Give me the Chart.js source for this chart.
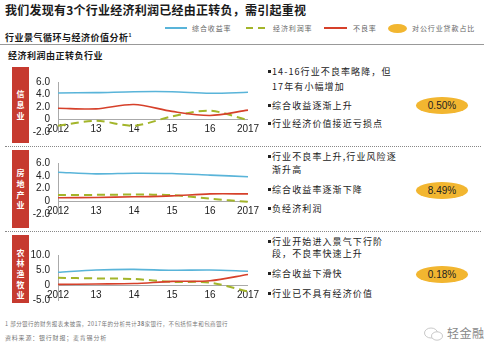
<!DOCTYPE html>
<html>
<head>
<meta charset="utf-8">
<script src="https://cdn.jsdelivr.net/npm/chart.js@4"></script>
<style>
  html,body{margin:0;padding:0;background:#fff;}
  body{width:500px;height:356px;position:relative;overflow:hidden;font-family:"Noto Sans CJK SC","Noto Sans",sans-serif;}
  .abs{position:absolute;white-space:nowrap;}
  .title{left:5px;top:2px;font-size:12px;font-weight:bold;color:#1a1a1a;letter-spacing:0.25px;line-height:16px;}
  .sub{font-size:9px;font-weight:bold;color:#1a1a1a;letter-spacing:0.5px;line-height:12px;}
  .leg{font-size:7px;color:#666;letter-spacing:0.9px;line-height:10px;}
  .box{background:#c63a2f;width:17px;}
  .vch{position:absolute;left:0;width:17px;text-align:center;color:#fff;font-size:8px;font-weight:bold;line-height:10px;}
  .txt{font-size:9px;color:#222;letter-spacing:1.1px;line-height:12px;}
  .b{display:inline-block;width:3px;height:3px;background:#222;vertical-align:2px;margin-right:1px;}
  .ell{background:#f2b630;border-radius:50%;width:52px;height:17px;text-align:center;font-family:"Liberation Sans",Arial,sans-serif;font-size:10px;line-height:17px;color:#222;}
  .foot{font-size:5.5px;color:#777;letter-spacing:0.45px;line-height:8px;}
  canvas{position:absolute;}
</style>
</head>
<body>
<div class="abs title">我们发现有3个行业经济利润已经由正转负，需引起重视</div>

<!-- legend -->
<div class="abs" style="left:165px;top:27px;width:22px;height:2px;background:#59b4d9;"></div>
<div class="abs leg" style="left:192px;top:23px;">综合收益率</div>
<svg class="abs" style="left:246px;top:26px;" width="22" height="4"><line x1="0" y1="2" x2="22" y2="2" stroke="#a3b52a" stroke-width="2" stroke-dasharray="7,5"/></svg>
<div class="abs leg" style="left:273px;top:23px;">经济利润率</div>
<div class="abs" style="left:324px;top:27px;width:23px;height:2px;background:#d6402a;"></div>
<div class="abs leg" style="left:353px;top:23px;">不良率</div>
<div class="abs" style="left:388px;top:24px;width:19px;height:9px;border-radius:50%;background:#f2b630;"></div>
<div class="abs leg" style="left:412px;top:23px;">对公行业贷款占比</div>

<div class="abs sub" style="left:5px;top:29px;">行业景气循环与经济价值分析<sup style="font-size:5px;">1</sup></div>
<div class="abs" style="left:0;top:44px;width:484px;height:1px;background:#999;"></div>
<div class="abs sub" style="left:8px;top:50px;">经济利润由正转负行业</div>

<!-- panel boxes -->
<div class="abs box" style="left:12px;top:67px;height:76px;">
  <div class="vch" style="top:22px;">信</div><div class="vch" style="top:33px;">息</div><div class="vch" style="top:44px;">业</div>
</div>
<div class="abs box" style="left:12px;top:150px;height:78px;">
  <div class="vch" style="top:18px;">房</div><div class="vch" style="top:29px;">地</div><div class="vch" style="top:40px;">产</div><div class="vch" style="top:50px;">业</div>
</div>
<div class="abs box" style="left:12px;top:235px;height:68px;">
  <div class="vch" style="top:13px;">农</div><div class="vch" style="top:23px;">林</div><div class="vch" style="top:34px;">渔</div><div class="vch" style="top:45px;">牧</div><div class="vch" style="top:55px;">业</div>
</div>

<div class="abs" style="left:5px;top:146px;width:476px;border-top:1px dotted #888;"></div>
<div class="abs" style="left:5px;top:231px;width:476px;border-top:1px dotted #888;"></div>

<canvas id="c1" width="245" height="78" style="left:20px;top:68px;"></canvas>
<canvas id="c2" width="245" height="79" style="left:20px;top:149px;"></canvas>
<canvas id="c3" width="245" height="73" style="left:20px;top:241px;"></canvas>

<!-- right text panel 1 -->
<div class="abs txt" style="left:268px;top:66px;"><span class="b"></span>14-16行业不良率略降，但</div>
<div class="abs txt" style="left:272px;top:81px;">17年有小幅增加</div>
<div class="abs txt" style="left:268px;top:100px;"><span class="b"></span>综合收益逐渐上升</div>
<div class="abs txt" style="left:268px;top:118px;"><span class="b"></span>行业经济价值接近亏损点</div>
<div class="abs ell" id="e1" style="left:416px;top:97px;"></div>

<!-- panel 2 -->
<div class="abs txt" style="left:268px;top:151px;"><span class="b"></span>行业不良率上升,行业风险逐</div>
<div class="abs txt" style="left:272px;top:164px;">渐升高</div>
<div class="abs txt" style="left:268px;top:184px;"><span class="b"></span>综合收益率逐渐下降</div>
<div class="abs txt" style="left:268px;top:203px;"><span class="b"></span>负经济利润</div>
<div class="abs ell" id="e2" style="left:416px;top:182px;"></div>

<!-- panel 3 -->
<div class="abs txt" style="left:268px;top:236px;"><span class="b"></span>行业开始进入景气下行阶</div>
<div class="abs txt" style="left:272px;top:248px;">段，不良率快速上升</div>
<div class="abs txt" style="left:268px;top:268px;"><span class="b"></span>综合收益下滑快</div>
<div class="abs txt" style="left:268px;top:288px;"><span class="b"></span>行业已不具有经济价值</div>
<div class="abs ell" id="e3" style="left:416px;top:266px;"></div>

<div class="abs foot" style="left:5px;top:320px;">1 部分银行的财务报表未披露，2017年的分析共计<b>38</b>家银行，不包括恒丰和包商银行</div>
<div class="abs foot" style="left:5px;top:334px;font-size:6px;letter-spacing:0.8px;">资料来源：银行财报；麦肯锡分析</div>

<svg class="abs" style="left:423px;top:326px;" width="22" height="16"><ellipse cx="8" cy="7" rx="6.5" ry="5" fill="none" stroke="#bbb" stroke-width="0.8"/><ellipse cx="14" cy="10" rx="5.5" ry="4.2" fill="#fff" stroke="#bbb" stroke-width="0.8"/></svg>
<div class="abs" style="left:447px;top:325px;font-size:12px;color:#888;line-height:16px;letter-spacing:0.5px;">轻金融</div>

<script>
// ---- data ----
const years = ['2012', '13', '14', '15', '16', '2017'];

const infoYield = [4.25, 4.3, 4.45, 4.45, 4.2, 4.35];
const infoEconProfit = [-1.0, -0.2, -1.0, 0.5, 1.4, -0.1];
const infoNpl = [1.8, 1.7, 2.4, 1.3, 0.65, 1.5];

const realEstateYield = [4.55, 4.3, 4.4, 4.35, 4.1, 3.85];
const realEstateEconProfit = [1.0, 1.0, 1.05, 0.95, 0.4, -0.1];
const realEstateNpl = [0.55, 0.6, 0.7, 0.85, 1.15, 1.15];

const agriYield = [4.25, 5.0, 5.2, 4.9, 5.0, 4.6];
const agriEconProfit = [2.4, 2.2, 2.0, 1.05, 0.8, -2.2];
const agriNpl = [0.2, 0.35, 0.5, 1.2, 1.4, 3.5];

const loanShare = ['0.50%', '8.49%', '0.18%'];

const infoTicks = [-2, 0, 2, 4, 6];
const realEstateTicks = [-2, 0, 2, 4, 6];
const agriTicks = [-5, 0, 5, 10];

document.getElementById('e1').textContent = loanShare[0];
document.getElementById('e2').textContent = loanShare[1];
document.getElementById('e3').textContent = loanShare[2];

const BLUE = '#59b4d9', GREEN = '#a3b52a', RED = '#d6402a';

function makeChart(id, yieldArr, econArr, nplArr, ticks) {
  const min = ticks[0], max = ticks[ticks.length - 1];
  new Chart(document.getElementById(id), {
    type: 'line',
    data: {
      labels: years,
      datasets: [
        {label: '综合收益率', data: yieldArr, borderColor: BLUE, borderWidth: 1.6, tension: 0.3, pointRadius: 0},
        {label: '不良率', data: nplArr, borderColor: RED, borderWidth: 1.6, tension: 0.3, pointRadius: 0},
        {label: '经济利润率', data: econArr, borderColor: GREEN, borderWidth: 2, borderDash: [8, 5], tension: 0.3, pointRadius: 0}
      ]
    },
    options: {
      responsive: false,
      animation: false,
      devicePixelRatio: 1,
      layout: {padding: {top: 8, bottom: 8, left: 0, right: 17}},
      plugins: {legend: {display: false}, tooltip: {enabled: false}},
      scales: {
        x: {
          position: {y: 0},
          offset: false,
          grid: {display: false, drawTicks: false, tickLength: 0},
          border: {display: false},
          ticks: {padding: 4, maxRotation: 0, autoSkip: false, color: '#222',
                  font: {family: '"Liberation Sans", Arial, sans-serif', size: 10}},
          afterFit: s => { s.height = 0; }
        },
        y: {
          min: min, max: max,
          afterBuildTicks: s => { s.ticks = ticks.map(v => ({value: v})); },
          grid: {display: true, drawTicks: false, tickLength: 0,
                 color: c => (c.tick && c.tick.value === 0) ? '#aaa' : 'rgba(0,0,0,0)', lineWidth: 1},
          border: {display: true, color: '#aaa', width: 1},
          ticks: {padding: 8, color: '#222',
                  font: {family: '"Liberation Sans", Arial, sans-serif', size: 10},
                  callback: v => v === 0 ? '0' : Number(v).toFixed(1)},
          afterFit: s => { s.width = 38; }
        }
      }
    }
  });
}

makeChart('c1', infoYield, infoEconProfit, infoNpl, infoTicks);
makeChart('c2', realEstateYield, realEstateEconProfit, realEstateNpl, realEstateTicks);
makeChart('c3', agriYield, agriEconProfit, agriNpl, agriTicks);
</script>
</body>
</html>
